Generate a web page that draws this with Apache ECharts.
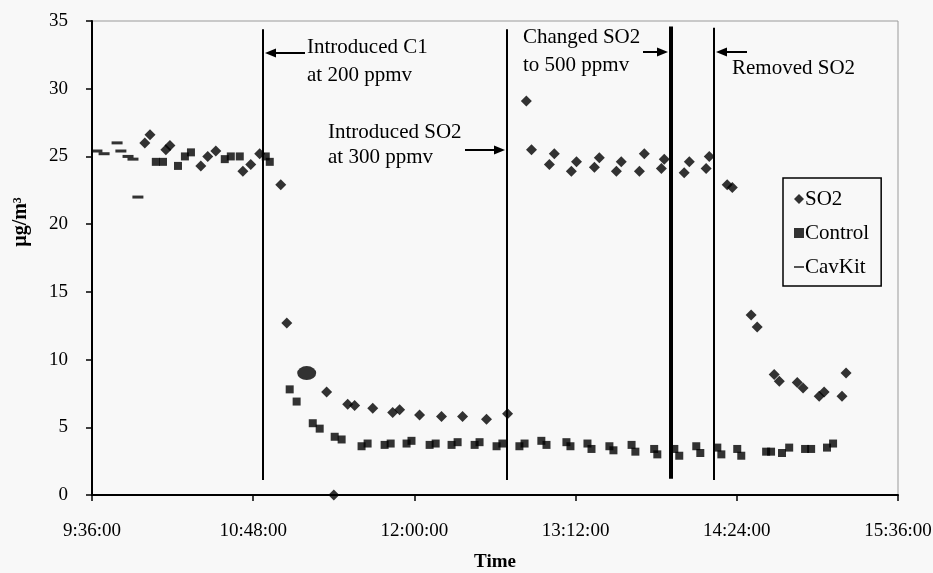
<!DOCTYPE html>
<html>
<head>
<meta charset="utf-8">
<script src="https://cdn.jsdelivr.net/npm/echarts@6/dist/echarts.min.js"></script>
<style>
  html, body { margin: 0; padding: 0; background: #f8f8f8; }
  #main { width: 933px; height: 573px; }
</style>
</head>
<body>
<div id="main"></div>
<script>
// times are minutes after midnight (9:36 = 576)
const so2Time = [599.6, 601.9, 609.0, 610.8, 624.6, 627.7, 631.3, 643.4, 646.9, 650.9,
  660.3, 663.0, 671.9, 680.8, 684.0, 690.2, 693.3, 701.4, 710.3, 713.4, 722.3, 732.1,
  741.5, 752.2, 761.6, 770.0, 772.3, 780.3, 782.5, 790.1, 792.4, 800.4, 802.6, 810.2,
  812.4, 820.5, 822.7, 830.3, 831.6, 840.5, 842.8, 850.3, 851.7, 859.7, 862.0, 870.4,
  873.1, 880.7, 883.0, 891.0, 893.6, 900.8, 903.0, 911.0, 912.8]
const so2Value = [26.0, 26.6, 25.5, 25.8, 24.3, 25.0, 25.4, 23.9, 24.4, 25.2,
  22.9, 12.7, 9.0, 7.6, 0.0, 6.7, 6.6, 6.4, 6.1, 6.3, 5.9, 5.8,
  5.8, 5.6, 6.0, 29.1, 25.5, 24.4, 25.2, 23.9, 24.6, 24.2, 24.9, 23.9,
  24.6, 23.9, 25.2, 24.1, 24.8, 23.8, 24.6, 24.1, 25.0, 22.9, 22.7, 13.3,
  12.4, 8.9, 8.4, 8.3, 7.9, 7.3, 7.6, 7.3, 9.0]
// the blotted reading near 11:12 shows as a big oval in the scan
const so2Blot = 12

const controlTime = [604.5, 607.7, 614.4, 617.5, 620.2, 635.3, 638.0, 642.0, 653.6, 655.4,
  664.3, 667.4, 674.6, 677.7, 684.4, 687.5, 696.4, 699.1, 706.7, 709.4, 716.5, 718.7,
  726.8, 729.5, 736.6, 739.3, 746.9, 749.1, 756.7, 759.3, 766.9, 769.2, 776.7, 779.0,
  787.9, 789.7, 797.3, 799.1, 807.1, 808.9, 817.0, 818.7, 827.1, 828.5, 836.1, 838.3,
  845.9, 847.7, 855.3, 857.1, 864.2, 866.0, 877.1, 879.3, 884.2, 887.4, 894.5, 897.2,
  904.3, 907.0]
const controlValue = [24.6, 24.6, 24.3, 25.0, 25.3, 24.8, 25.0, 25.0, 25.0, 24.6,
  7.8, 6.9, 5.3, 4.9, 4.3, 4.1, 3.6, 3.8, 3.7, 3.8, 3.8, 4.0,
  3.7, 3.8, 3.7, 3.9, 3.7, 3.9, 3.6, 3.8, 3.6, 3.8, 4.0, 3.7,
  3.9, 3.6, 3.8, 3.4, 3.6, 3.3, 3.7, 3.2, 3.4, 3.0, 3.4, 2.9,
  3.6, 3.1, 3.5, 3.0, 3.4, 2.9, 3.2, 3.2, 3.1, 3.5, 3.4, 3.4,
  3.5, 3.8]

const cavkitTime = [578.2, 581.4, 587.2, 588.9, 592.1, 594.3, 596.5]
const cavkitValue = [25.4, 25.2, 26.0, 25.4, 25.0, 24.8, 22.0]

// event lines: time, lower end, upper end
const eventTime = [652.3, 761.1, 834.6, 853.9]
const eventLow = [1.1, 1.1, 1.2, 1.1]
const eventHigh = [34.4, 34.4, 34.6, 34.5]
const eventWidth = [2, 2, 4, 2]

const zip = (a, b) => a.map((v, i) => [v, b[i]])

const fmtTime = (m) => {
  const h = Math.floor(m / 60)
  const mm = Math.round(m % 60)
  return h + ':' + String(mm).padStart(2, '0') + ':00'
}

const serif = 'Liberation Serif'
const chart = echarts.init(document.getElementById('main'))

// arrow = line + head, pointing at (x2, y2)
const arrow = (x1, y1, x2, y2) => {
  const dir = Math.sign(x2 - x1)
  return {
    type: 'group',
    children: [
      { type: 'line', shape: { x1: x1, y1: y1, x2: x2 - dir * 6, y2: y2 }, style: { stroke: '#000', lineWidth: 2 } },
      { type: 'polygon', shape: { points: [[x2, y2], [x2 - dir * 11, y2 - 4.5], [x2 - dir * 11, y2 + 4.5]] }, style: { fill: '#000' } }
    ]
  }
}
const note = (x, y, text, lh) => ({
  type: 'text', left: x, top: y,
  style: { text: text, font: '21px "Liberation Serif"', fill: '#000', lineHeight: lh }
})

const so2Data = zip(so2Time, so2Value).map((d, i) => i === so2Blot
  ? { value: d, symbol: 'circle', symbolSize: [19, 14] }
  : d)

const option = {
  backgroundColor: '#f8f8f8',
  animation: false,
  grid: {
    left: 92, right: 35, top: 21, bottom: 78, outerBoundsMode: 'none',
    show: true, borderColor: '#9a9a9a', borderWidth: 1
  },
  xAxis: {
    type: 'value', min: 576, max: 936, interval: 72,
    name: 'Time', nameLocation: 'middle', nameGap: 58,
    nameTextStyle: { fontFamily: serif, fontWeight: 'bold', fontSize: 19, color: '#000' },
    axisLine: { lineStyle: { color: '#000', width: 2 } },
    axisTick: { show: true, length: 6, lineStyle: { color: '#000', width: 1.5 } },
    axisLabel: { fontFamily: serif, fontSize: 19, color: '#000', margin: 27, formatter: fmtTime },
    splitLine: { show: false }
  },
  yAxis: {
    type: 'value', min: 0, max: 35, interval: 5,
    axisLine: { show: true, lineStyle: { color: '#000', width: 2 } },
    axisTick: { show: true, length: 6, lineStyle: { color: '#000', width: 1.5 } },
    axisLabel: { fontFamily: serif, fontSize: 19, color: '#000', margin: 24 },
    splitLine: { show: false }
  },
  legend: {
    orient: 'vertical', left: 783, top: 178,
    padding: [10, 12, 8, 11], itemGap: 12, itemWidth: 10, itemHeight: 10,
    borderColor: '#000', borderWidth: 1.5, backgroundColor: '#f8f8f8',
    textStyle: { fontFamily: serif, fontSize: 21, lineHeight: 22, color: '#000', padding: [0, 0, 0, -4] },
    data: [
      { name: 'SO2', icon: 'diamond' },
      { name: 'Control', icon: 'rect' },
      { name: 'CavKit', icon: 'path://M0,4 L12,4 L12,6 L0,6 Z' }
    ]
  },
  series: [
    {
      name: 'SO2', type: 'scatter', symbol: 'diamond', symbolSize: 11,
      itemStyle: { color: '#000' }, data: so2Data, z: 3,
      markLine: {
        silent: true, symbol: 'none', label: { show: false },
        data: eventTime.map((t, i) => [
          { coord: [t, eventLow[i]], lineStyle: { color: '#000', width: eventWidth[i], type: 'solid' } },
          { coord: [t, eventHigh[i]] }
        ])
      }
    },
    {
      name: 'Control', type: 'scatter', symbol: 'rect', symbolSize: 8,
      itemStyle: { color: '#000' }, data: zip(controlTime, controlValue), z: 3
    },
    {
      name: 'CavKit', type: 'scatter', symbol: 'rect', symbolSize: [11, 3],
      itemStyle: { color: '#000' }, data: zip(cavkitTime, cavkitValue), z: 3
    }
  ],
  graphic: [
    {
      type: 'text', x: 21, y: 222, rotation: Math.PI / 2,
      style: { text: 'µg/m³', font: 'bold 20px "Liberation Serif"', fill: '#000', align: 'center', verticalAlign: 'middle' }
    },
    note(307, 33, 'Introduced C1\nat 200 ppmv', 28),
    arrow(305, 53, 265, 53),
    note(328, 120, 'Introduced SO2\nat 300 ppmv', 25),
    arrow(465, 150, 505, 150),
    note(523, 23, 'Changed SO2\nto 500 ppmv', 28),
    arrow(643, 52, 668, 52),
    arrow(747, 52, 716, 52),
    note(732, 54, 'Removed SO2', 28)
  ]
}

chart.setOption(option)
</script>
</body>
</html>
